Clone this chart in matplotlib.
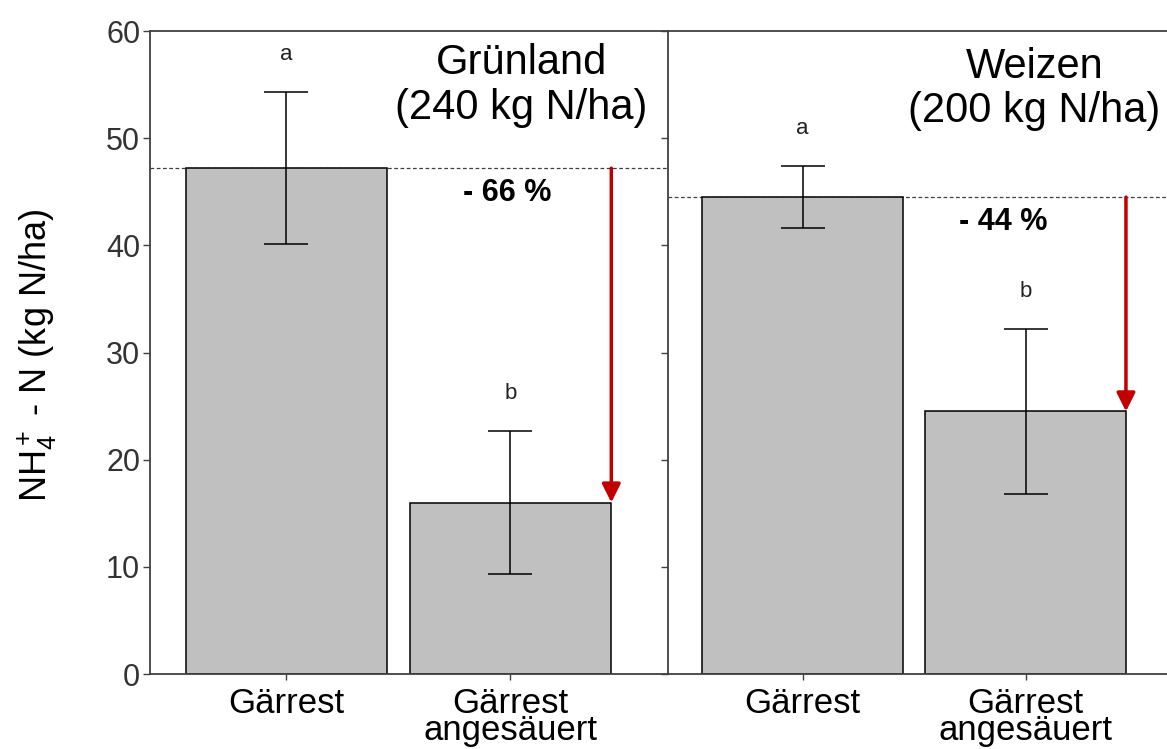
import matplotlib

matplotlib.use("Agg")
import matplotlib.pyplot as plt

plt.rcParams["font.family"] = ["Liberation Sans", "DejaVu Sans"]
plt.rcParams["mathtext.fontset"] = "custom"
plt.rcParams["mathtext.rm"] = "Liberation Sans"
plt.rcParams["mathtext.it"] = "Liberation Sans:italic"

# data
categories = ["Gärrest", "Gärrest\nangesäuert"]
panels = ["Grünland\n(240 kg N/ha)", "Weizen\n(200 kg N/ha)"]
means = [[47.2, 16.0], [44.5, 24.5]]
errors = [[7.1, 6.7], [2.9, 7.7]]
letters = [["a", "b"], ["a", "b"]]
reductions = ["- 66 %", "- 44 %"]

spine_col = "#404040"
bar_col = "#c0c0c0"
red = "#c00000"

fig = plt.figure(figsize=(11.67, 7.49), dpi=100)
bottom, top = 0.1001, 0.9586
ax_l = fig.add_axes([0.1285, bottom, 0.5724 - 0.1285, top - bottom])
ax_r = fig.add_axes([0.5724, bottom, 1.0 - 0.5724, top - bottom])

xlims = [(-0.609, 1.703), (-0.603, 1.634)]
title_pos = [(1.05, 54.9), (1.04, 54.6)]
pct_pos = [(0.984, 44.9), (0.90, 42.2)]

for i, ax in enumerate([ax_l, ax_r]):
    x = range(len(categories))
    ax.bar(x, means[i], width=0.9, color=bar_col, edgecolor="black", linewidth=1.1, zorder=2)
    ax.errorbar(x, means[i], yerr=errors[i], fmt="none", ecolor="black", elinewidth=1.1,
                capsize=16, capthick=1.1, zorder=3)
    for j in x:
        ax.text(j, means[i][j] + errors[i][j] + 3.5, letters[i][j], ha="center", va="center",
                fontsize=16, color="#222222")

    # reference line at the untreated level and reduction arrow
    ax.axhline(means[i][0], color=spine_col, lw=0.9, ls=(0, (3, 2)), zorder=1)
    ax.annotate("", xy=(1.45, means[i][1]), xytext=(1.45, means[i][0]),
                arrowprops=dict(arrowstyle="-|>", color=red, lw=2.5, mutation_scale=28,
                                shrinkA=0, shrinkB=0), zorder=4)
    ax.text(*pct_pos[i], reductions[i], ha="center", va="center", fontsize=22, fontweight="bold")
    ax.text(*title_pos[i], panels[i], ha="center", va="center", fontsize=30, linespacing=1.15)

    ax.set_xlim(*xlims[i])
    ax.set_ylim(0, 60)
    ax.set_yticks(range(0, 61, 10))
    ax.set_xticks(list(x))
    ax.set_xticklabels(categories, fontsize=25)
    for t in ax.get_xticklabels():
        t.set_linespacing(0.75)
    ax.tick_params(axis="x", length=4.5, width=1.0, color=spine_col, pad=5)
    ax.tick_params(axis="y", length=5, width=1.0, color=spine_col, labelsize=22,
                   labelcolor="#333333", pad=2)
    ax.spines["right"].set_visible(False)
    for s in ["left", "bottom", "top"]:
        ax.spines[s].set_color(spine_col)
        ax.spines[s].set_linewidth(1.3)
    ax.set_facecolor("none")

ax_r.tick_params(axis="y", labelleft=False)

fig.text(0.032, 0.525, r"NH$_4^+$ - N (kg N/ha)", rotation=90, ha="center", va="center", fontsize=26)

fig.savefig("out.png", dpi=100)
